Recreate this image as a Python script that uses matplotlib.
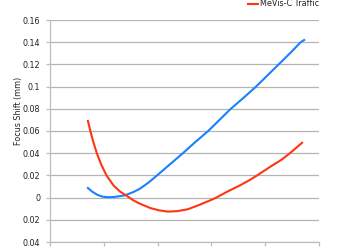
import matplotlib
matplotlib.use("Agg")
import matplotlib.pyplot as plt
from matplotlib.lines import Line2D

# Data (x in arbitrary units 0..5)
red_x = [0.70, 0.725, 0.75, 0.80, 0.87, 0.95, 1.05, 1.18, 1.30, 1.43, 1.55, 1.67, 1.87, 2.03, 2.19, 2.37, 2.56, 2.78, 3.00, 3.09, 3.30, 3.53, 3.70, 3.85, 4.10, 4.30, 4.46, 4.70]
red_y = [0.070, 0.065, 0.060, 0.051, 0.040, 0.030, 0.020, 0.011, 0.0055, 0.0015, -0.0025, -0.0055, -0.0095, -0.0115, -0.0126, -0.0122, -0.0105, -0.0065, -0.002, 0.0, 0.0055, 0.011, 0.0155, 0.020, 0.028, 0.034, 0.040, 0.050]

blue_x = [0.69, 0.78, 0.88, 0.98, 1.09, 1.20, 1.39, 1.55, 1.67, 1.83, 1.99, 2.23, 2.47, 2.70, 2.94, 3.15, 3.36, 3.60, 3.83, 4.04, 4.25, 4.46, 4.66, 4.74]
blue_y = [0.0093, 0.0055, 0.0025, 0.0008, 0.0003, 0.0006, 0.002, 0.005, 0.008, 0.0135, 0.020, 0.030, 0.040, 0.050, 0.060, 0.070, 0.080, 0.090, 0.100, 0.110, 0.120, 0.130, 0.140, 0.1425]

ytick_values = [-0.04, -0.02, 0.0, 0.02, 0.04, 0.06, 0.08, 0.1, 0.12, 0.14, 0.16]
ytick_labels = ["0.04", "0.02", "0", "0.02", "0.04", "0.06", "0.08", "0.1", "0.12", "0.14", "0.16"]
xtick_values = [0, 1, 2, 3, 4, 5]
legend_label = "MeVis-C Traffic"
ylabel = "Focus Shift (mm)"

RED = "#ff3512"
BLUE = "#1a80ff"
GRID = "#b4b4b4"

fig = plt.figure(figsize=(3.45, 2.5), dpi=100)
ax = fig.add_axes([50/345, 8/250, 269/345, 222/250])

for v in ytick_values:
    ax.axhline(v, color=GRID, lw=0.9, zorder=1)

ax.plot(blue_x, blue_y, color=BLUE, lw=1.5, solid_capstyle="butt", solid_joinstyle="round", zorder=3)
ax.plot(red_x, red_y, color=RED, lw=1.5, solid_capstyle="butt", solid_joinstyle="round", zorder=3)

ax.set_xlim(0, 5)
ax.set_ylim(-0.04, 0.16)
ax.set_yticks(ytick_values)
ax.set_yticklabels(ytick_labels)
ax.set_xticks(xtick_values)
ax.set_xticklabels([])

for s in ["top", "right"]:
    ax.spines[s].set_visible(False)
for s in ["left", "bottom"]:
    ax.spines[s].set_color("#bdbdbd")
    ax.spines[s].set_linewidth(0.9)
ax.tick_params(axis="both", colors="#bdbdbd", length=3, width=0.9, direction="out",
               labelsize=5.8, labelcolor="#222222", pad=4)

fig.text(18/345, 1 - 111/250, ylabel, rotation=90, ha="center", va="center",
         fontsize=5.8, color="#222222")

# legend entry (partially cropped at top in reference)
fig.add_artist(Line2D([248/345, 258/345], [1 - 3.5/250, 1 - 3.5/250], color=RED, lw=1.5,
                      transform=fig.transFigure))
fig.text(260/345, 1 - 4/250, legend_label, ha="left", va="center", fontsize=5.8, color="#222222")

fig.savefig("out.png", dpi=100)
